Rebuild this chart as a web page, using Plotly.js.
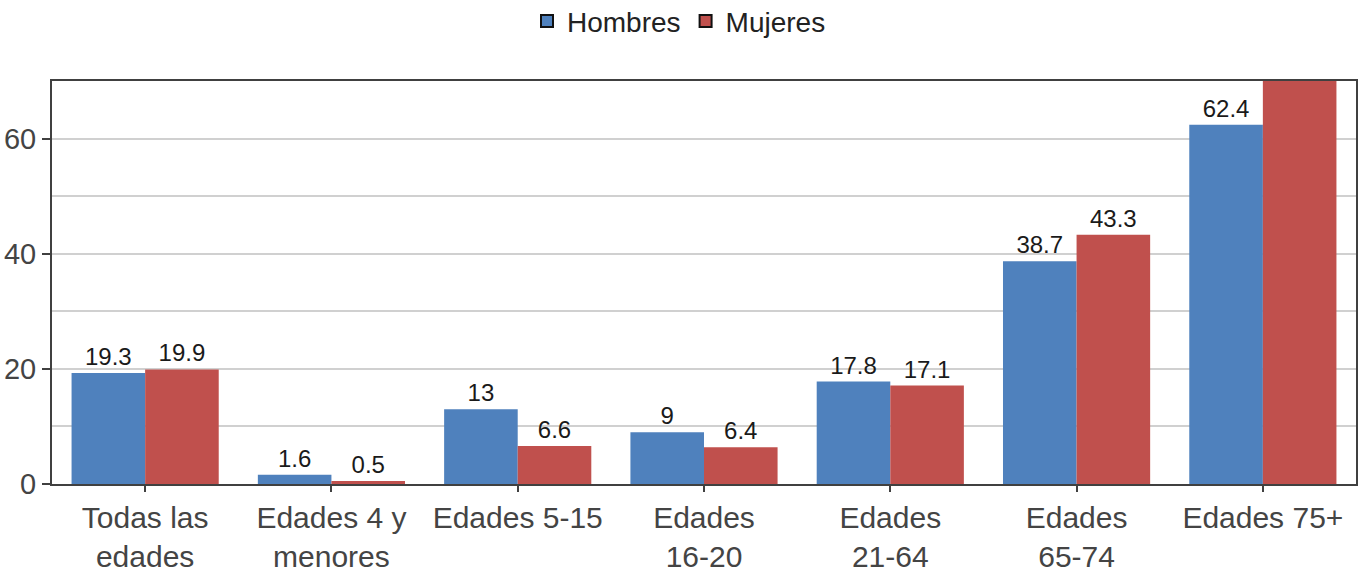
<!DOCTYPE html>
<html><head><meta charset="utf-8">
<script src="https://cdn.plot.ly/plotly-3.0.1.min.js"></script>
<style>html,body{margin:0;padding:0;background:#fff}#chart{width:1358px;height:575px}</style>
</head><body><div id="chart"></div>
<script>
const categories = ["Todas las<br>edades", "Edades 4 y<br>menores", "Edades 5-15", "Edades<br>16-20", "Edades<br>21-64", "Edades<br>65-74", "Edades 75+"];
const hombres = [19.3, 1.6, 13, 9, 17.8, 38.7, 62.4];
const mujeres = [19.9, 0.5, 6.6, 6.4, 17.1, 43.3, 74];
const yTickVals = [0, 20, 40, 60];

const FONT = "Liberation Sans, Arial, sans-serif";
const BLUE = "#4F81BD", RED = "#C0504D";

const data = [
  {type:"bar", name:"Hombres", x:categories, y:hombres, offsetgroup:"h", marker:{color:BLUE, line:{width:0}},
   text:hombres.map(String), textposition:"outside", cliponaxis:true, constraintext:"none",
   textfont:{family:FONT, size:24, color:"#1a1a1a"}, showlegend:false, hoverinfo:"y"},
  {type:"bar", name:"Mujeres", x:categories, y:mujeres, offsetgroup:"m", marker:{color:RED, line:{width:0}},
   text:mujeres.map(String), textposition:"outside", cliponaxis:true, constraintext:"none",
   textfont:{family:FONT, size:24, color:"#1a1a1a"}, showlegend:false, hoverinfo:"y"},
  {type:"bar", name:"Hombres", x:[categories[0]], y:[null], offsetgroup:"h", marker:{color:BLUE, line:{color:"#111", width:2}}, showlegend:true},
  {type:"bar", name:"Mujeres", x:[categories[0]], y:[null], offsetgroup:"m", marker:{color:RED, line:{color:"#111", width:2}}, showlegend:true}
];

const layout = {
  width:1358, height:575,
  margin:{l:52, r:2, t:81, b:91},
  paper_bgcolor:"#fff", plot_bgcolor:"#fff",
  barmode:"group", bargap:0.21, bargroupgap:0,
  font:{family:FONT, color:"#444"},
  legend:{orientation:"h", xref:"container", x:0.5, xanchor:"center", yref:"container", y:0.963, yanchor:"middle",
          font:{family:FONT, size:28, color:"#222"}, itemwidth:30, tracegroupgap:0},
  xaxis:{type:"category", showgrid:false, ticks:"outside", ticklen:6, tickwidth:2, tickcolor:"#404040",
         showline:true, linecolor:"#404040", linewidth:2, mirror:true,
         tickfont:{family:FONT, size:30, color:"#444"}, fixedrange:true},
  yaxis:{range:[0,70], tickvals:yTickVals, ticktext:yTickVals.map(String), ticks:"outside", ticklen:8, tickwidth:2, tickcolor:"#404040",
         showgrid:true, gridcolor:"#d0d0d0", gridwidth:2,
         minor:{dtick:10, showgrid:true, gridcolor:"#d0d0d0", gridwidth:2},
         showline:true, linecolor:"#404040", linewidth:2, mirror:true, zeroline:false,
         tickfont:{family:FONT, size:29, color:"#444"}, fixedrange:true}
};

Plotly.newPlot("chart", data, layout, {displayModeBar:false, staticPlot:true});
</script></body></html>
